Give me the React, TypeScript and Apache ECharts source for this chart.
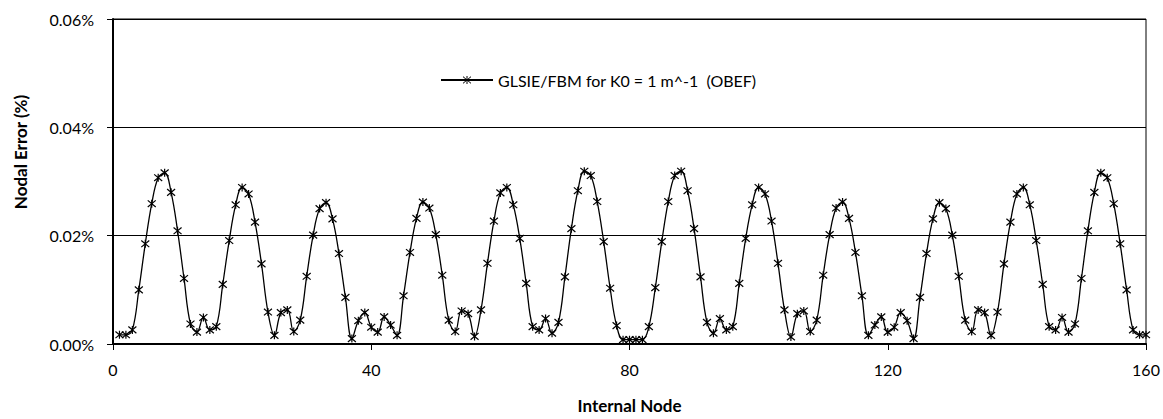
import React, { useEffect, useRef } from "react";
import * as echarts from "echarts";

const seriesName = "GLSIE/FBM for K0 = 1 m^-1  (OBEF)";
const xTitle = "Internal Node";
const yTitle = "Nodal Error (%)";
const xTicks = { min: 0, max: 160, interval: 40 };
const yTicks = { min: 0, max: 0.06, interval: 0.02 };

// Nodal error in percent, nodes 1..160
const errorPct: number[] = [
  0.0017, 0.0017, 0.0026, 0.0100, 0.0185, 0.0259, 0.0307, 0.0316, 0.0280, 0.0209,
  0.0121, 0.0037, 0.0022, 0.0049, 0.0026, 0.0032, 0.0110, 0.0191, 0.0257, 0.0289,
  0.0277, 0.0225, 0.0148, 0.0059, 0.0016, 0.0058, 0.0063, 0.0023, 0.0044, 0.0125,
  0.0201, 0.0250, 0.0261, 0.0231, 0.0167, 0.0086, 0.0010, 0.0043, 0.0058, 0.0031,
  0.0022, 0.0050, 0.0035, 0.0016, 0.0089, 0.0169, 0.0232, 0.0262, 0.0251, 0.0202,
  0.0127, 0.0044, 0.0023, 0.0061, 0.0056, 0.0014, 0.0063, 0.0149, 0.0227, 0.0279,
  0.0289, 0.0257, 0.0195, 0.0112, 0.0032, 0.0026, 0.0047, 0.0020, 0.0040, 0.0124,
  0.0213, 0.0283, 0.0319, 0.0311, 0.0263, 0.0189, 0.0103, 0.0034, 0.0008, 0.0008,
  0.0008, 0.0008, 0.0032, 0.0104, 0.0189, 0.0263, 0.0311, 0.0319, 0.0283, 0.0213,
  0.0124, 0.0040, 0.0020, 0.0047, 0.0026, 0.0032, 0.0112, 0.0195, 0.0257, 0.0289,
  0.0277, 0.0227, 0.0149, 0.0063, 0.0013, 0.0056, 0.0061, 0.0023, 0.0044, 0.0127,
  0.0202, 0.0251, 0.0262, 0.0232, 0.0169, 0.0089, 0.0016, 0.0035, 0.0050, 0.0022,
  0.0031, 0.0058, 0.0043, 0.0010, 0.0086, 0.0167, 0.0231, 0.0261, 0.0250, 0.0201,
  0.0125, 0.0044, 0.0023, 0.0063, 0.0058, 0.0016, 0.0059, 0.0148, 0.0225, 0.0277,
  0.0289, 0.0257, 0.0191, 0.0110, 0.0032, 0.0026, 0.0049, 0.0022, 0.0037, 0.0121,
  0.0209, 0.0280, 0.0316, 0.0307, 0.0259, 0.0185, 0.0100, 0.0026, 0.0017, 0.0017,
];
const nodes: number[] = errorPct.map((_, i) => i + 1);

const FONT = "Lato, 'Open Sans', sans-serif";
const STAR = "path://M0,0L10,10M10,0L0,10M5,-1L5,11";

export default function App() {
  const ref = useRef<HTMLDivElement>(null);
  useEffect(() => {
    document.body.style.margin = "0";
    if (!ref.current) return;
    const chart = echarts.init(ref.current, null, { renderer: "svg" });
    chart.setOption({
      animation: false,
      backgroundColor: "#fff",
      textStyle: { fontFamily: FONT },
      grid: {
        left: 113,
        right: 17,
        top: 19,
        bottom: 67,
        show: true,
        borderColor: "#000",
        borderWidth: 1,
        containLabel: false,
      },
      legend: {
        data: [seriesName],
        left: 435,
        top: 67,
        itemWidth: 52,
        itemHeight: 10,
        itemGap: 5,
        itemStyle: { borderWidth: 1 },
        textStyle: { fontFamily: FONT, fontSize: 16, color: "#000" },
      },
      xAxis: {
        type: "value",
        min: xTicks.min,
        max: xTicks.max,
        interval: xTicks.interval,
        name: xTitle,
        nameLocation: "middle",
        nameGap: 53,
        nameTextStyle: { fontFamily: FONT, fontSize: 17, fontWeight: "bold", color: "#000" },
        axisLine: { show: true, onZero: false, lineStyle: { color: "#000", width: 2 } },
        axisTick: { show: true, inside: false, length: 6, lineStyle: { color: "#000", width: 1 } },
        axisLabel: { fontFamily: FONT, fontSize: 16, color: "#000", margin: 17 },
        splitLine: { show: false },
      },
      yAxis: {
        type: "value",
        min: yTicks.min,
        max: yTicks.max,
        interval: yTicks.interval,
        axisLine: { show: true, lineStyle: { color: "#000", width: 2 } },
        axisTick: { show: true, inside: false, length: 6, lineStyle: { color: "#000", width: 1 } },
        axisLabel: {
          fontFamily: FONT,
          fontSize: 16,
          color: "#000",
          margin: 19,
          formatter: (v: number) => v.toFixed(2) + "%",
        },
        splitLine: { show: true, lineStyle: { color: "#000", width: 1 } },
      },
      graphic: [
        {
          type: "text",
          x: 20,
          y: 152,
          rotation: Math.PI / 2,
          style: {
            text: yTitle,
            fontFamily: FONT,
            fontSize: 17,
            fontWeight: "bold",
            fill: "#000",
            textAlign: "center",
            textVerticalAlign: "middle",
          },
        },
      ],
      series: [
        {
          name: seriesName,
          type: "line",
          data: nodes.map((n, i) => [n, errorPct[i]]),
          smooth: 0.4,
          symbol: STAR,
          symbolSize: 8,
          showSymbol: true,
          lineStyle: { color: "#000", width: 1.3 },
          itemStyle: { color: "#000", borderColor: "#000", borderWidth: 1.2 },
        },
      ],
    });
    return () => chart.dispose();
  }, []);
  return (
    <div
      ref={ref}
      style={{ position: "absolute", left: 0, top: 0, width: 1163, height: 419 }}
    />
  );
}
